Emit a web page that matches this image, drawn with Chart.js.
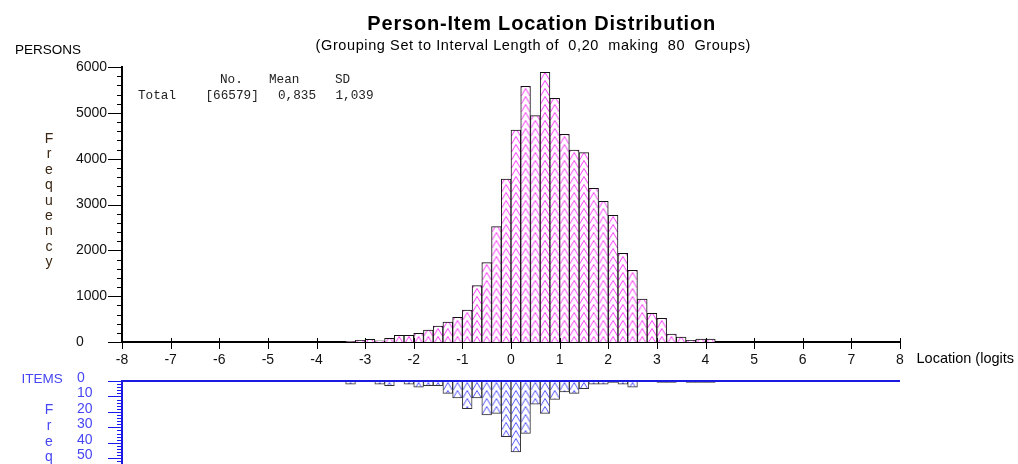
<!DOCTYPE html>
<html><head><meta charset="utf-8">
<script src="https://cdn.jsdelivr.net/npm/chart.js@4.4.1/dist/chart.umd.min.js"></script>
<style>
html,body{margin:0;padding:0;background:#fff;width:1018px;height:464px;overflow:hidden;position:relative;font-family:Arial,'Liberation Sans',sans-serif;}
.t{position:absolute;white-space:pre;line-height:1;}
canvas{position:absolute;left:0;}
.mono{font-family:'Courier New','Liberation Mono',monospace;font-size:12.7px;color:#222;}
.blue{color:#4646f5;}
</style></head><body>
<canvas id="c1" width="1018" height="372" style="top:0;width:1018px;height:372px"></canvas>
<canvas id="c2" width="1018" height="140" style="top:366px;width:1018px;height:140px"></canvas>

<div class="t" style="left:541.7px;top:13px;transform:translateX(-50%);font-size:20px;letter-spacing:0.8px;font-weight:bold;color:#000">Person-Item Location Distribution</div>
<div class="t" style="left:533.3px;top:38px;transform:translateX(-50%);font-size:14.5px;letter-spacing:0.6px;color:#000">(Grouping Set to Interval Length of  0,20  making  80  Groups)</div>
<div class="t" style="left:15px;top:43px;font-size:13.5px;color:#000">PERSONS</div>
<div class="t" style="left:42px;top:131px;width:14px;text-align:center;font-size:14px;line-height:15.4px;color:#3a2612">F<br>r<br>e<br>q<br>u<br>e<br>n<br>c<br>y</div>
<div class="t mono" style="left:220px;top:73.6px">No.</div>
<div class="t mono" style="left:269px;top:73.6px">Mean</div>
<div class="t mono" style="left:335px;top:73.6px">SD</div>
<div class="t mono" style="left:138px;top:89.6px">Total</div>
<div class="t mono" style="left:205.5px;top:89.6px">[66579]</div>
<div class="t mono" style="left:278px;top:89.6px">0,835</div>
<div class="t mono" style="left:335.5px;top:89.6px">1,039</div>
<div class="t" style="left:916.5px;top:351px;font-size:14.5px;color:#000">Location (logits</div>
<div class="t blue" style="left:21.5px;top:371.5px;font-size:13.5px">ITEMS</div>
<div class="t blue" style="left:42px;top:402px;width:14px;text-align:center;font-size:14px;line-height:15.8px">F<br>r<br>e<br>q</div>

<script>
// ---- data ----
const personBinCenters = [-3.3,-3.1,-2.9,-2.7,-2.5,-2.3,-2.1,-1.9,-1.7,-1.5,-1.3,-1.1,-0.9,-0.7,-0.5,-0.3,-0.1,0.1,0.3,0.5,0.7,0.9,1.1,1.3,1.5,1.7,1.9,2.1,2.3,2.5,2.7,2.9,3.1,3.3,3.5,3.7,3.9,4.1];
const personCounts = [12,37,59,28,80,145,145,189,262,349,436,538,698,1229,1731,2516,3557,4626,5579,4938,5885,5317,4532,4189,4131,3353,3069,2764,1935,1564,938,626,517,175,110,37,65,65];
const itemBinCenters = [-3.3,-2.7,-2.5,-2.1,-1.9,-1.7,-1.5,-1.3,-1.1,-0.9,-0.7,-0.5,-0.3,-0.1,0.1,0.3,0.5,0.7,0.9,1.1,1.3,1.5,1.7,1.9,2.1,2.3,2.5,3.1,3.3,3.7,3.9,4.1];
const itemCounts = [2,2,3,2,4,3,3,8,11,18,11,22,21,36,46,34,15,21,12,7,8,5,2,2,1,2,4,1,1,1,1,1];
const xTickValues = [-8,-7,-6,-5,-4,-3,-2,-1,0,1,2,3,4,5,6,7,8];
const xTickLabels = ['-8','-7','-6','-5','-4','-3','-2','-1','0','1','2','3','4','5','6','7','8'];
const personYTickValues = [0,1000,2000,3000,4000,5000,6000];
const personYLabels = ['0','1000','2000','3000','4000','5000','6000'];
const itemYTickValues = [0,10,20,30,40,50];
const itemYLabels = ['0','10','20','30','40','50'];

const FONT = "Arial, 'Liberation Sans', sans-serif";
const BIN = 0.2;

function labelFor(values, labels) {
  return v => {
    const i = values.indexOf(v);
    return i < 0 ? null : labels[i];
  };
}

function makeHatch(canvas, color) {
  const t = document.createElement('canvas');
  t.width = 10; t.height = 8;
  const g = t.getContext('2d');
  g.fillStyle = '#fff'; g.fillRect(0, 0, 10, 8);
  g.strokeStyle = color; g.lineWidth = 1;
  g.beginPath();
  g.moveTo(0.5, 8); g.lineTo(5, 0.5); g.lineTo(9.5, 8);
  g.stroke();
  return canvas.getContext('2d').createPattern(t, 'repeat');
}

const c1 = document.getElementById('c1');
const c2 = document.getElementById('c2');
const pinkHatch = makeHatch(c1, '#ff33ff');
const blueHatch = makeHatch(c2, '#5050ff');

const alignHatch = {
  id: 'alignHatch',
  beforeDatasetsDraw(chart, args, o) {
    const xs = chart.scales.x;
    const x0 = xs.getPixelForValue(0);
    const w = xs.getPixelForValue(BIN) - x0;
    o.pattern.setTransform(new DOMMatrix([w / 10, 0, 0, 1, x0, 0]));
  }
};

const axisTicks = {
  id: 'axisTicks',
  afterDraw(chart, args, o) {
    const ctx = chart.ctx, a = chart.chartArea, y = chart.scales.y, x = chart.scales.x;
    ctx.save();
    ctx.strokeStyle = o.color; ctx.lineWidth = 1;
    ctx.beginPath();
    for (let v = Math.min(y.min, y.max); v <= Math.max(y.min, y.max) + 1e-9; v += o.minorStep) {
      const p = Math.round(y.getPixelForValue(v)) + 0.5;
      const r = v / o.majorStep;
      const major = Math.abs(r - Math.round(r)) < 1e-6;
      const len = major ? o.majorLen : o.minorLen;
      ctx.moveTo(a.left - len, p); ctx.lineTo(a.left, p);
    }
    if (o.xTicks) {
      for (let i = 0; i < x.ticks.length; i++) {
        const p = Math.round(x.getPixelForValue(x.ticks[i].value)) + 0.5;
        ctx.moveTo(p, a.bottom - 4); ctx.lineTo(p, a.bottom + 7);
      }
    }
    ctx.stroke();
    if (o.zeroLine) {
      ctx.beginPath();
      ctx.strokeStyle = o.zeroLine; ctx.lineWidth = 2;
      const p = y.getPixelForValue(0);
      ctx.moveTo(a.left, p); ctx.lineTo(a.right, p);
      ctx.stroke();
    }
    ctx.restore();
  }
};

new Chart(c1, {
  type: 'bar',
  data: {
    datasets: [{
      data: personBinCenters.map((c, i) => ({ x: c, y: personCounts[i] })),
      backgroundColor: pinkHatch,
      borderColor: '#111',
      borderWidth: 1,
      barPercentage: 1,
      categoryPercentage: 1
    }]
  },
  options: {
    responsive: false, animation: false, devicePixelRatio: 1,
    layout: { padding: { top: 67, right: 118, left: 76, bottom: 0 } },
    plugins: {
      legend: { display: false }, tooltip: { enabled: false },
      alignHatch: { pattern: pinkHatch },
      axisTicks: { color: '#000', minorStep: 200, majorStep: 1000, majorLen: 14, minorLen: 5, xTicks: true }
    },
    scales: {
      x: {
        type: 'linear', min: -8, max: 8, offset: false,
        grid: { display: false, drawTicks: false, offset: false },
        border: { display: true, color: '#000', width: 2 },
        ticks: { stepSize: 1, padding: 10, color: '#111', font: { family: FONT, size: 14 },
                 callback: labelFor(xTickValues, xTickLabels) },
        afterFit: s => { s.height = 30; }
      },
      y: {
        min: 0, max: 6000,
        grid: { display: false, drawTicks: false },
        border: { display: true, color: '#000', width: 2 },
        ticks: { stepSize: 1000, padding: 2, crossAlign: 'far', color: '#111', font: { family: FONT, size: 14 },
                 callback: labelFor(personYTickValues, personYLabels) },
        afterFit: s => { s.width = 46; }
      }
    }
  },
  plugins: [alignHatch, axisTicks]
});

new Chart(c2, {
  type: 'bar',
  data: {
    datasets: [{
      data: itemBinCenters.map((c, i) => ({ x: c, y: itemCounts[i] })),
      backgroundColor: blueHatch,
      borderColor: '#333',
      borderWidth: 1,
      barPercentage: 1,
      categoryPercentage: 1
    }]
  },
  options: {
    responsive: false, animation: false, devicePixelRatio: 1,
    layout: { padding: { top: 15, right: 118, left: 77, bottom: 20 } },
    plugins: {
      legend: { display: false }, tooltip: { enabled: false },
      alignHatch: { pattern: blueHatch },
      axisTicks: { color: '#1a1aee', minorStep: 2, majorStep: 10, majorLen: 14, minorLen: 5, xTicks: false, zeroLine: '#1a1ae0' }
    },
    scales: {
      x: {
        type: 'linear', min: -8, max: 8, display: false, offset: false,
        grid: { offset: false },
        ticks: { stepSize: 1 }
      },
      y: {
        min: 0, max: 68, reverse: true,
        grid: { display: false, drawTicks: false },
        border: { display: true, color: '#1a1ae0', width: 2 },
        ticks: { stepSize: 10, padding: 2, crossAlign: 'far', labelOffset: -3, color: '#4646f5', font: { family: FONT, size: 14 },
                 callback: labelFor(itemYTickValues, itemYLabels) },
        afterFit: s => { s.width = 45; }
      }
    }
  },
  plugins: [alignHatch, axisTicks]
});
</script>
</body></html>
